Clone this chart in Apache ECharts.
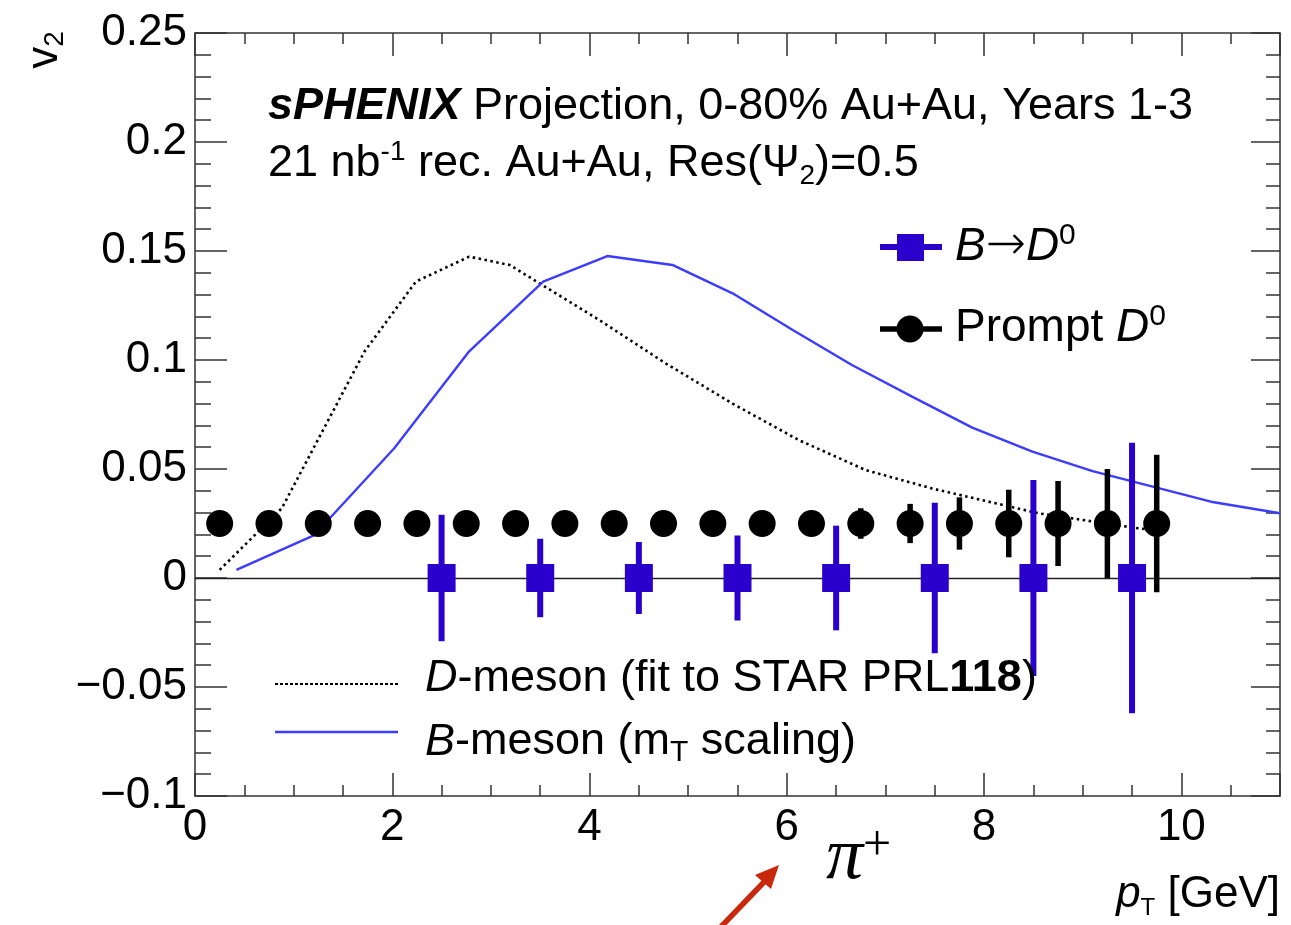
<!DOCTYPE html>
<html>
<head>
<meta charset="utf-8">
<script src="https://cdn.jsdelivr.net/npm/echarts@6/dist/echarts.min.js"></script>
<style>
html,body{margin:0;padding:0;background:#fff;}
#c{width:1291px;height:925px;}
</style>
</head>
<body>
<div id="c"></div>
<script>
// ---- data ----
const promptX = [0.25,0.75,1.25,1.75,2.25,2.75,3.25,3.75,4.25,4.75,5.25,5.75,6.25,6.75,7.25,7.75,8.25,8.75,9.25,9.75];
const promptY = [0.025,0.025,0.025,0.025,0.025,0.025,0.025,0.025,0.025,0.025,0.025,0.025,0.025,0.025,0.025,0.025,0.025,0.025,0.025,0.025];
const promptErr = [0.001,0.001,0.001,0.0012,0.0015,0.0018,0.002,0.0025,0.003,0.0035,0.004,0.0045,0.005,0.007,0.009,0.012,0.0155,0.0195,0.025,0.0315];

const bToDX = [2.5,3.5,4.5,5.5,6.5,7.5,8.5,9.5];
const bToDY = [0,0,0,0,0,0,0,0];
const bToDErr = [0.029,0.018,0.0165,0.0195,0.024,0.0345,0.045,0.062];

const dMesonX = [0.25,0.88,1.72,2.24,2.78,3.19,4.10,4.77,5.45,6.12,6.80,7.47,8.55,9.56,9.75];
const dMesonY = [0.0037,0.032,0.104,0.136,0.1474,0.1436,0.1183,0.0985,0.080,0.0633,0.0495,0.0411,0.0297,0.0228,0.022];

const bMesonX = [0.42,1.21,2.02,2.78,3.53,4.18,4.84,5.45,6.06,6.66,7.27,7.88,8.49,9.10,9.70,10.30,11.0];
const bMesonY = [0.0037,0.0197,0.0595,0.104,0.136,0.1477,0.1436,0.1306,0.1138,0.0977,0.0832,0.069,0.058,0.049,0.042,0.035,0.0297];

const xTickLabels = ['0','2','4','6','8','10'];
const yTickLabels = ['\u22120.1','\u22120.05','0','0.05','0.1','0.15','0.2','0.25'];

// ---- styling ----
const FONT = 'Liberation Sans';
const BLUE_MARK = '#2a00cc';
const BLUE_LINE = '#3c3cff';
const AXIS_COL = '#333';
const TXT = 45;

const chart = echarts.init(document.getElementById('c'), null, {renderer:'canvas'});

function errBarSeries(xs, ys, es, color, width, z) {
  return {
    type: 'custom',
    xAxisIndex: 0, yAxisIndex: 0,
    z: z,
    silent: true,
    data: xs.map((x,i)=>[x, ys[i], es[i]]),
    renderItem: function(params, api) {
      const x = api.value(0), y = api.value(1), e = api.value(2);
      const p1 = api.coord([x, y + e]);
      const p2 = api.coord([x, y - e]);
      return {type:'line', shape:{x1:p1[0],y1:p1[1],x2:p2[0],y2:p2[1]},
              style:{stroke:color, lineWidth:width}};
    }
  };
}

const xFmt = v => { const r = Math.round(v); const i = xTickLabels.indexOf(String(r)); return (Math.abs(v-r)<1e-6 && i>=0) ? xTickLabels[i] : ''; };
const yVals = [-0.1,-0.05,0,0.05,0.1,0.15,0.2,0.25];
const yFmt = v => { for (let i=0;i<yVals.length;i++) if (Math.abs(v-yVals[i])<1e-6) return yTickLabels[i]; return ''; };

const tickLS = {color:AXIS_COL, width:1.5};
function xAx(pos, interval, len, line, labels) {
  return {type:'value', position:pos, min:0, max:11, interval:interval,
    axisLine: {show:line, onZero:false, lineStyle:{color:AXIS_COL, width:1.5}},
    axisTick:{show:true, inside:true, length:len, lineStyle:tickLS},
    axisLabel: labels ? {show:true, margin:10, formatter:xFmt, color:'#000', fontFamily:FONT, fontSize:44} : {show:false},
    splitLine:{show:false}};
}
function yAx(pos, interval, len, line, labels) {
  return {type:'value', position:pos, min:-0.1, max:0.25, interval:interval,
    axisLine: {show:line, onZero:false, lineStyle:{color:AXIS_COL, width:1.5}},
    axisTick:{show:true, inside:true, length:len, lineStyle:tickLS},
    axisLabel: labels ? {show:true, margin:8, formatter:yFmt, color:'#000', fontFamily:FONT, fontSize:44} : {show:false},
    splitLine:{show:false}};
}

const dotStyle = {color:'#000', width:2.6, type:[2.5,3.5]};

const option = {
  animation: false,
  backgroundColor: '#fff',
  grid: {left:195, right:11, top:33, bottom:129, containLabel:false},
  xAxis: [
    xAx('bottom', 2, 23, true, true),
    xAx('bottom', 0.5, 11, false, false),
    xAx('top', 2, 23, true, false),
    xAx('top', 0.5, 11, false, false)
  ],
  yAxis: [
    yAx('left', 0.05, 32, true, true),
    yAx('left', 0.01, 16, false, false),
    yAx('right', 0.05, 29, true, false),
    yAx('right', 0.01, 14, false, false)
  ],
  series: [
    {name:'D-meson', type:'line', xAxisIndex:0, yAxisIndex:0, z:2,
     data: dMesonX.map((x,i)=>[x, dMesonY[i]]),
     showSymbol:false, symbol:'none', smooth:false, silent:true,
     lineStyle:dotStyle,
     markLine:{silent:true, symbol:'none', label:{show:false},
       lineStyle:{color:'#222', width:1.3, type:'solid'},
       data:[{yAxis:0}]}},
    {name:'B-meson', type:'line', xAxisIndex:0, yAxisIndex:0, z:3,
     data: bMesonX.map((x,i)=>[x, bMesonY[i]]),
     showSymbol:false, symbol:'none', smooth:false, silent:true,
     lineStyle:{color:BLUE_LINE, width:2.4}},
    errBarSeries(bToDX, bToDY, bToDErr, BLUE_MARK, 6, 4),
    errBarSeries(promptX, promptY, promptErr, '#000', 5.5, 5),
    {name:'B->D0', type:'scatter', xAxisIndex:0, yAxisIndex:0, z:6, silent:true,
     symbol:'rect', symbolSize:28,
     itemStyle:{color:BLUE_MARK, opacity:1},
     data: bToDX.map((x,i)=>[x, bToDY[i]])},
    {name:'Prompt D0', type:'scatter', xAxisIndex:0, yAxisIndex:0, z:7, silent:true,
     symbol:'circle', symbolSize:27,
     itemStyle:{color:'#000', opacity:1},
     data: promptX.map((x,i)=>[x, promptY[i]])}
  ],
  graphic: [
    // header text
    {type:'text', left:268, top:84, z:100, style:{
      text:'{b|sPHENIX} {n|Projection, 0-80% Au+Au, Years 1-3}',
      rich:{ b:{fontFamily:FONT, fontSize:TXT, fontWeight:'bold', fontStyle:'italic', fill:'#000'},
             n:{fontFamily:FONT, fontSize:TXT, fill:'#000'} },
      fontFamily:FONT, fontSize:TXT, fill:'#000'}},
    {type:'text', left:268, top:138, z:100, style:{
      text:'{n|21 nb}{sup|-1}{n| rec. Au+Au, Res(\u03A8}{sub|2}{n|)=0.5}',
      rich:{ n:{fontFamily:FONT, fontSize:TXT, fill:'#000', lineHeight:52, verticalAlign:'middle'},
             sup:{fontFamily:FONT, fontSize:28, fill:'#000', lineHeight:52, verticalAlign:'top'},
             sub:{fontFamily:FONT, fontSize:28, fill:'#000', lineHeight:52, verticalAlign:'bottom', padding:[18,0,0,0]} },
      fontFamily:FONT, fontSize:TXT, fill:'#000'}},
    // legend right: B -> D0
    {type:'line', z:100, shape:{x1:880, y1:247, x2:942, y2:247}, style:{stroke:BLUE_MARK, lineWidth:6}},
    {type:'rect', z:101, shape:{x:897, y:234, width:27, height:27}, style:{fill:BLUE_MARK}},
    {type:'text', left:955, top:221, z:100, style:{
      text:'{i|B}{a|\u2192}{i|D}{sup|0}',
      rich:{ i:{fontFamily:FONT, fontSize:46, fontStyle:'italic', fill:'#000', lineHeight:52},
             a:{fontFamily:'DejaVu Sans', fontSize:48, fontWeight:200, fill:'#000', lineHeight:52},
             sup:{fontFamily:FONT, fontSize:30, fill:'#000', lineHeight:52, verticalAlign:'top'} },
      fontFamily:FONT, fontSize:46}},
    // legend right: Prompt D0
    {type:'line', z:100, shape:{x1:880, y1:329, x2:942, y2:329}, style:{stroke:'#000', lineWidth:5.5}},
    {type:'circle', z:101, shape:{cx:910, cy:329, r:13.5}, style:{fill:'#000'}},
    {type:'text', left:955, top:302, z:100, style:{
      text:'{n|Prompt }{i|D}{sup|0}',
      rich:{ i:{fontFamily:FONT, fontSize:46, fontStyle:'italic', fill:'#000', lineHeight:52},
             n:{fontFamily:FONT, fontSize:46, fill:'#000', lineHeight:52},
             sup:{fontFamily:FONT, fontSize:30, fill:'#000', lineHeight:52, verticalAlign:'top'} },
      fontFamily:FONT, fontSize:46}},
    // legend bottom: D-meson
    {type:'line', z:100, shape:{x1:275, y1:684, x2:398, y2:684}, style:{stroke:'#000', lineWidth:2, lineDash:[3,2]}},
    {type:'text', left:425, top:656, z:100, style:{
      text:'{i|D}{n|-meson (fit to STAR PRL}{b|118}{n|)}',
      rich:{ i:{fontFamily:FONT, fontSize:TXT, fontStyle:'italic', fill:'#000', lineHeight:52},
             n:{fontFamily:FONT, fontSize:TXT, fill:'#000', lineHeight:52},
             b:{fontFamily:FONT, fontSize:TXT, fontWeight:'bold', fill:'#000', lineHeight:52} },
      fontFamily:FONT, fontSize:TXT}},
    // legend bottom: B-meson
    {type:'line', z:100, shape:{x1:275, y1:732, x2:398, y2:732}, style:{stroke:BLUE_LINE, lineWidth:2.4}},
    {type:'text', left:425, top:704, z:100, style:{
      text:'{i|B}{n|-meson (m}{sub|T}{n| scaling)}',
      rich:{ i:{fontFamily:FONT, fontSize:TXT, fontStyle:'italic', fill:'#000', lineHeight:52},
             n:{fontFamily:FONT, fontSize:TXT, fill:'#000', lineHeight:52},
             sub:{fontFamily:FONT, fontSize:30, fill:'#000', lineHeight:52, verticalAlign:'bottom', padding:[34,0,0,0]} },
      fontFamily:FONT, fontSize:TXT}},
    // y axis title v2
    {type:'text', x:45, y:50, rotation:Math.PI/2, z:100, style:{
      text:'{n|v}{sub|2}', align:'center', verticalAlign:'middle',
      rich:{ n:{fontFamily:FONT, fontSize:44, fill:'#000', lineHeight:48},
             sub:{fontFamily:FONT, fontSize:28, fill:'#000', lineHeight:48, verticalAlign:'bottom', padding:[14,0,0,0]} }}},
    // x axis title pT [GeV]
    {type:'text', right:11, top:872, z:100, style:{
      text:'{i|p}{sub|T}{n| [GeV]}',
      rich:{ i:{fontFamily:FONT, fontSize:44, fontStyle:'italic', fill:'#000', lineHeight:50},
             n:{fontFamily:FONT, fontSize:44, fill:'#000', lineHeight:50},
             sub:{fontFamily:FONT, fontSize:24, fill:'#000', lineHeight:50, verticalAlign:'bottom', padding:[24,0,0,0]} }}},
    // pi+ annotation
    {type:'text', left:826, top:822, z:100, style:{
      text:'{p|\u03C0}{s|+}',
      rich:{ p:{fontFamily:'Liberation Serif', fontSize:74, fontStyle:'italic', fill:'#000', lineHeight:74},
             s:{fontFamily:'Liberation Serif', fontSize:50, fill:'#000', lineHeight:74, verticalAlign:'top'} }}},
    // red arrow
    {type:'line', z:100, shape:{x1:716, y1:932, x2:765, y2:881}, style:{stroke:'#c8290c', lineWidth:5.5}},
    {type:'polygon', z:100, shape:{points:[[779,865],[771,889],[755,875]]}, style:{fill:'#c8290c'}}
  ]
};
chart.setOption(option);
</script>
</body>
</html>
